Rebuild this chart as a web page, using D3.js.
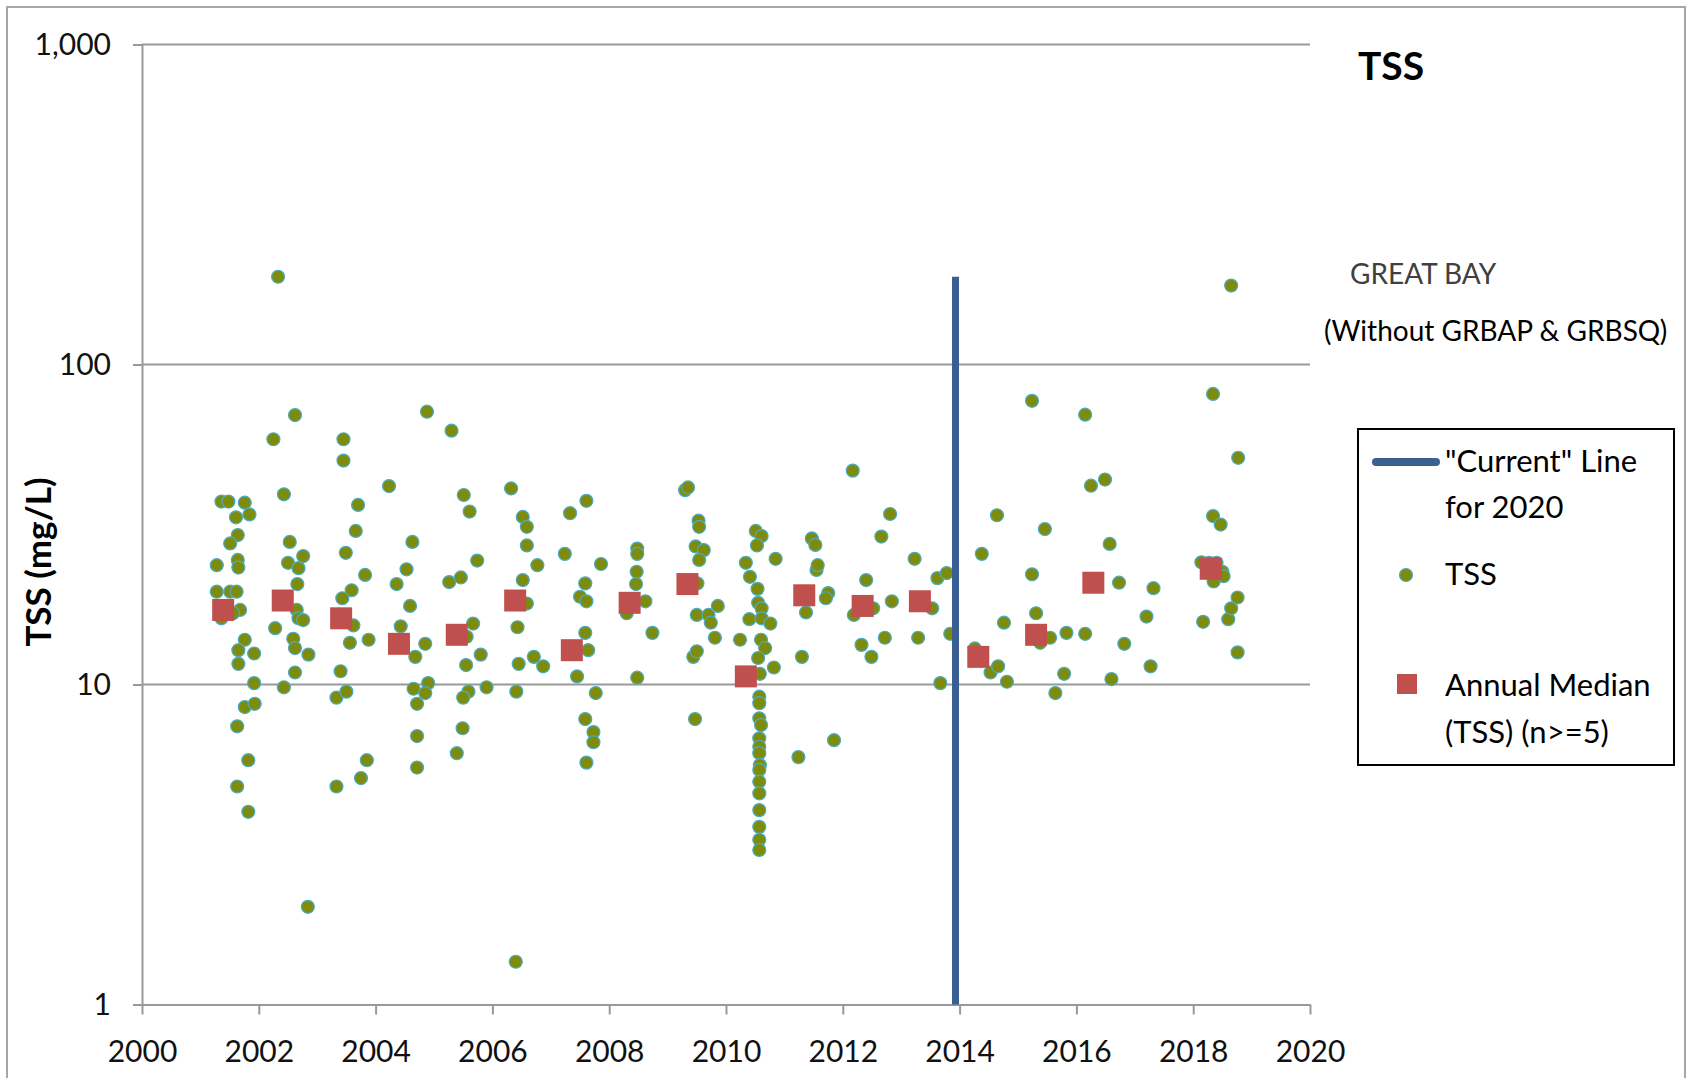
<!DOCTYPE html>
<html>
<head>
<meta charset="utf-8">
<script src="https://cdn.jsdelivr.net/npm/d3@7"></script>
<style>
  body { margin: 0; background: #fff; }
  svg text { font-family: Lato, "Open Sans", sans-serif; }
</style>
</head>
<body>
<div id="chart-area"></div>
<script>
// TSS samples as [decimal year, mg/L]
const tssSamples = [
  [2001.36, 37.3], [2001.48, 37.3], [2001.76, 37.0], [2001.84, 34.0], [2001.61, 33.3], [2001.64, 29.3],
  [2001.51, 27.6], [2001.28, 23.6], [2001.64, 24.5], [2001.65, 23.2], [2001.28, 19.5], [2001.51, 19.5],
  [2001.62, 19.5], [2001.68, 17.1], [2001.56, 16.7], [2001.36, 16.1], [2001.76, 13.8], [2001.65, 12.8],
  [2001.92, 12.5], [2001.65, 11.6], [2001.92, 10.1], [2001.76, 8.5], [2001.93, 8.7], [2001.63, 7.4],
  [2001.82, 5.8], [2001.63, 4.8], [2001.82, 4.0],
  [2002.33, 188], [2002.25, 58.4], [2002.62, 69.5], [2002.43, 39.3], [2002.53, 27.9], [2002.76, 25.2],
  [2002.50, 24.0], [2002.68, 23.1], [2002.66, 20.6], [2002.65, 17.1], [2002.68, 16.1], [2002.76, 15.9],
  [2002.28, 15.0], [2002.59, 13.9], [2002.62, 13.0], [2002.85, 12.4], [2002.62, 10.9], [2002.43, 9.8],
  [2002.84, 2.02],
  [2003.45, 58.4], [2003.45, 50.1], [2003.70, 36.4], [2003.66, 30.2], [2003.49, 25.8], [2003.82, 22.0],
  [2003.59, 19.7], [2003.43, 18.6], [2003.62, 15.3], [2003.56, 13.5], [2003.88, 13.8], [2003.40, 11.0],
  [2003.33, 9.1], [2003.50, 9.5], [2003.85, 5.8], [2003.75, 5.1], [2003.33, 4.8],
  [2004.23, 41.7], [2004.88, 71.2], [2004.63, 27.9], [2004.53, 22.9], [2004.36, 20.6], [2004.59, 17.6],
  [2004.43, 15.2], [2004.85, 13.4], [2004.68, 12.2], [2004.65, 9.7], [2004.90, 10.1], [2004.85, 9.4],
  [2004.71, 8.7], [2004.71, 6.9], [2004.71, 5.5],
  [2005.30, 62.1], [2005.51, 39.1], [2005.61, 34.7], [2005.74, 24.4], [2005.26, 20.9], [2005.46, 21.6],
  [2005.67, 15.5], [2005.56, 14.1], [2005.80, 12.4], [2005.55, 11.5], [2005.90, 9.8], [2005.59, 9.5],
  [2005.50, 9.1], [2005.49, 7.3], [2005.39, 6.1],
  [2006.32, 41.0], [2006.52, 33.4], [2006.59, 31.1], [2006.59, 27.2], [2006.77, 23.6], [2006.52, 21.2],
  [2006.59, 17.9], [2006.43, 15.1], [2006.45, 11.6], [2006.71, 12.2], [2006.87, 11.4], [2006.41, 9.5],
  [2006.40, 1.36],
  [2007.33, 34.3], [2007.24, 25.6], [2007.50, 18.8], [2007.45, 10.6], [2007.61, 37.5], [2007.86, 23.8],
  [2007.59, 20.7], [2007.61, 18.2], [2007.59, 14.5], [2007.64, 12.8], [2007.77, 9.4], [2007.59, 7.8],
  [2007.73, 7.1], [2007.73, 6.6], [2007.61, 5.7],
  [2008.48, 26.6], [2008.48, 25.6], [2008.47, 22.5], [2008.46, 20.6], [2008.62, 18.2], [2008.30, 16.7],
  [2008.74, 14.5], [2008.48, 10.5],
  [2009.30, 40.5], [2009.35, 41.3], [2009.53, 32.5], [2009.54, 31.1], [2009.48, 27.0], [2009.62, 26.3],
  [2009.54, 24.5], [2009.51, 20.7], [2009.50, 16.5], [2009.70, 16.5], [2009.86, 17.6], [2009.74, 15.6],
  [2009.81, 14.0], [2009.44, 12.2], [2009.50, 12.7], [2009.47, 7.8],
  [2010.51, 30.2], [2010.61, 29.1], [2010.53, 27.2], [2010.85, 24.7], [2010.34, 24.0], [2010.41, 21.7],
  [2010.54, 19.9], [2010.55, 18.0], [2010.61, 17.3], [2010.40, 16.0], [2010.61, 16.1], [2010.76, 15.5],
  [2010.24, 13.8], [2010.60, 13.8], [2010.67, 13.0], [2010.82, 11.3], [2010.55, 12.1], [2010.58, 10.8],
  [2010.57, 9.16], [2010.57, 8.74], [2010.57, 7.84], [2010.60, 7.47], [2010.57, 6.79], [2010.57, 6.39],
  [2010.57, 6.10], [2010.58, 5.60], [2010.57, 5.41], [2010.57, 4.97], [2010.57, 4.57], [2010.57, 4.05],
  [2010.57, 3.59], [2010.57, 3.27], [2010.57, 3.04],
  [2011.47, 28.6], [2011.53, 27.3], [2011.55, 22.8], [2011.57, 23.6], [2011.75, 19.3], [2011.71, 18.6],
  [2011.37, 16.8], [2011.30, 12.2], [2011.24, 5.93], [2011.85, 6.7],
  [2012.17, 46.6], [2012.81, 34.1], [2012.66, 29.0], [2012.40, 21.2], [2012.84, 18.2], [2012.52, 17.3],
  [2012.19, 16.5], [2012.72, 14.0], [2012.32, 13.3], [2012.49, 12.2],
  [2013.23, 24.7], [2013.62, 21.5], [2013.78, 22.3], [2013.53, 17.3], [2013.29, 14.0], [2013.84, 14.4],
  [2013.67, 10.1],
  [2014.26, 12.96], [2014.38, 25.6], [2014.64, 33.8], [2014.76, 15.6], [2014.53, 10.9], [2014.66, 11.4],
  [2014.81, 10.2],
  [2015.24, 77], [2015.24, 22.1], [2015.31, 16.7], [2015.46, 30.6], [2015.38, 13.5], [2015.55, 14.0],
  [2015.64, 9.4], [2015.79, 10.8], [2015.83, 14.5],
  [2016.15, 69.7], [2016.25, 41.8], [2016.49, 43.7], [2016.57, 27.5], [2016.15, 14.4], [2016.60, 10.4],
  [2016.73, 20.8], [2016.82, 13.4],
  [2017.20, 16.3], [2017.32, 20.0], [2017.27, 11.4],
  [2018.34, 80.9], [2018.65, 176.5], [2018.34, 33.6], [2018.47, 31.6], [2018.14, 24.1], [2018.27, 24.0],
  [2018.40, 24.0], [2018.50, 22.5], [2018.17, 15.7], [2018.60, 16.0], [2018.65, 17.3], [2018.76, 18.7],
  [2018.77, 51.1], [2018.76, 12.6], [2018.52, 21.8], [2018.35, 21.0]
];

// annual medians (years with n>=5)
const medianYears = [2001.39, 2002.41, 2003.41, 2004.40, 2005.39, 2006.39, 2007.36, 2008.35, 2009.34,
  2010.34, 2011.34, 2012.34, 2013.32, 2014.32, 2015.31, 2016.29, 2018.30];
const medianValues = [17.1, 18.3, 16.1, 13.4, 14.3, 18.3, 12.8, 18.0, 20.6,
  10.6, 19.0, 17.6, 18.2, 12.2, 14.3, 20.8, 23.0];

// "current" line for 2020
const currentLine = [[2013.93, 1], [2013.93, 188]];

const xTicks = d3.range(2000, 2021, 2);
const yTicks = [1, 10, 100, 1000];

const w = 1689;
const h = 1078;

const svg = d3.select("#chart-area")
  .append("svg")
  .attr("width", w)
  .attr("height", h)

// outer frame
svg.append("rect")
  .attr("x", 7)
  .attr("y", 7)
  .attr("width", 1678)
  .attr("height", 1100)
  .attr("fill", "none")
  .attr("stroke", "#a6a6a6")
  .attr("stroke-width", 2)

const x = d3.scaleLinear()
  .domain([2000, 2020])
  .range([142, 1310])

const y = d3.scaleLog()
  .domain([1, 1000])
  .range([1004.5, 44.5])

// horizontal gridlines
svg.selectAll(".grid")
  .data(yTicks.slice(1))
  .enter()
  .append("line")
  .attr("class", "grid")
  .attr("x1", x(2000))
  .attr("x2", x(2020))
  .attr("y1", (d) => y(d))
  .attr("y2", (d) => y(d))
  .attr("stroke", "#999")
  .attr("stroke-width", 2)

const xAxis = d3.axisBottom(x)
  .tickValues(xTicks)
  .tickFormat(d3.format("d"))
  .tickSize(10)
  .tickSizeOuter(0)
  .tickPadding(26)

const yAxis = d3.axisLeft(y)
  .tickValues(yTicks)
  .tickFormat(d3.format(","))
  .tickSize(9)
  .tickSizeOuter(0)
  .tickPadding(22)

const gx = svg.append("g")
  .attr("transform", `translate(0,${y(1)})`)
  .call(xAxis)

const gy = svg.append("g")
  .attr("transform", `translate(${x(2000)},0)`)
  .call(yAxis)

for (const g of [gx, gy]) {
  g.select(".domain").attr("stroke", "#999").attr("stroke-width", 2)
  g.selectAll(".tick line").attr("stroke", "#999").attr("stroke-width", 2)
  g.selectAll(".tick text")
    .attr("fill", "#111")
    .style("font-family", "Lato, sans-serif")
    .style("font-size", "30px")
}

// y axis title
svg.append("text")
  .attr("transform", "translate(51,562) rotate(-90)")
  .attr("text-anchor", "middle")
  .style("font-size", "35px")
  .style("font-weight", "bold")
  .text("TSS (mg/L)")

// TSS samples
svg.selectAll(".tss")
  .data(tssSamples)
  .enter()
  .append("circle")
  .attr("class", "tss")
  .attr("cx", (d) => x(d[0]))
  .attr("cy", (d) => y(d[1]))
  .attr("r", 6.5)
  .attr("fill", "#7d8c0c")
  .attr("stroke", "#4bacc6")
  .attr("stroke-width", 1.2)

// current line
svg.append("path")
  .datum(currentLine)
  .attr("d", d3.line().x((d) => x(d[0])).y((d) => y(d[1])))
  .attr("stroke", "#3b5f93")
  .attr("stroke-width", 7)
  .attr("fill", "none")

// annual medians
svg.selectAll(".median")
  .data(medianYears)
  .enter()
  .append("rect")
  .attr("class", "median")
  .attr("x", (d) => x(d) - 11)
  .attr("y", (d, i) => y(medianValues[i]) - 11)
  .attr("width", 22)
  .attr("height", 22)
  .attr("fill", "#c0504d")

// titles on the right
svg.append("text")
  .attr("x", 1358)
  .attr("y", 80)
  .style("font-size", "39px")
  .style("font-weight", "bold")
  .text("TSS")

svg.append("text")
  .attr("x", 1350)
  .attr("y", 284)
  .attr("fill", "#404040")
  .style("font-size", "28px")
  .text("GREAT BAY")

svg.append("text")
  .attr("x", 1324)
  .attr("y", 341)
  .style("font-size", "28px")
  .text("(Without GRBAP & GRBSQ)")

// legend
const legend = svg.append("g")

legend.append("rect")
  .attr("x", 1358)
  .attr("y", 429)
  .attr("width", 316)
  .attr("height", 336)
  .attr("fill", "#fff")
  .attr("stroke", "#000")
  .attr("stroke-width", 2)

legend.append("line")
  .attr("x1", 1376)
  .attr("x2", 1436)
  .attr("y1", 462)
  .attr("y2", 462)
  .attr("stroke", "#3b5f93")
  .attr("stroke-width", 8)
  .attr("stroke-linecap", "round")

legend.append("circle")
  .attr("cx", 1406)
  .attr("cy", 575)
  .attr("r", 6.5)
  .attr("fill", "#7d8c0c")
  .attr("stroke", "#4bacc6")
  .attr("stroke-width", 1.2)

legend.append("rect")
  .attr("x", 1397)
  .attr("y", 674)
  .attr("width", 20)
  .attr("height", 20)
  .attr("fill", "#c0504d")

const legendLines = [
  ["\"Current\" Line", 472], ["for 2020", 518], ["TSS", 585],
  ["Annual Median", 696], ["(TSS) (n>=5)", 743]
]

legend.selectAll(".legend-text")
  .data(legendLines)
  .enter()
  .append("text")
  .attr("class", "legend-text")
  .attr("x", 1445)
  .attr("y", (d) => d[1])
  .style("font-size", "31px")
  .text((d) => d[0])
</script>
</body>
</html>
